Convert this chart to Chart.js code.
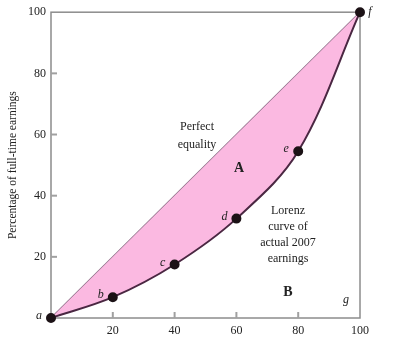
<!DOCTYPE html>
<html>
<head>
<meta charset="utf-8">
<script src="https://cdn.jsdelivr.net/npm/chart.js@4/dist/chart.umd.min.js"></script>
<style>
    body { margin: 0; background: #fff; }
    #wrap { width: 400px; height: 350px; }
</style>
</head>
<body>
<div id="wrap"><canvas id="chartCanvas" width="400" height="350"></canvas></div>
<script>
// population share (x) and earnings share (y)
const popShare = [0, 20, 40, 60, 80, 100];
const lorenzShare = [0, 6.8, 17.5, 32.5, 54.5, 100];
const equalityX = [0, 100];
const equalityY = [0, 100];
const pointLabels = ['a', 'b', 'c', 'd', 'e', 'f'];
const tickValues = [20, 40, 60, 80, 100];

const serif = '"Liberation Serif", "DejaVu Serif", serif';

// frame, inner tick marks and text notes
const decorations = {
    id: 'decorations',
    beforeDatasetsDraw(chart) {
        const { ctx, chartArea: a, scales: { x, y } } = chart;
        ctx.save();
        ctx.strokeStyle = '#8c8c8c';
        ctx.lineWidth = 1.5;
        ctx.strokeRect(a.left, a.top, a.right - a.left, a.bottom - a.top);
        ctx.lineWidth = 2;
        ctx.strokeStyle = '#a0a0a0';
        tickValues.slice(0, 4).forEach(v => {
            const px = x.getPixelForValue(v);
            ctx.beginPath();
            ctx.moveTo(px, a.bottom);
            ctx.lineTo(px, a.bottom - 6);
            ctx.stroke();
            const py = y.getPixelForValue(v);
            ctx.beginPath();
            ctx.moveTo(a.left, py);
            ctx.lineTo(a.left + 6, py);
            ctx.stroke();
        });
        ctx.restore();
    },
    afterDatasetsDraw(chart) {
        const { ctx, scales: { x, y } } = chart;
        ctx.save();
        ctx.fillStyle = '#222';
        ctx.textAlign = 'center';
        ctx.textBaseline = 'middle';

        // point letters
        ctx.font = 'italic 12px ' + serif;
        popShare.forEach((v, i) => {
            const px = x.getPixelForValue(v);
            const py = y.getPixelForValue(lorenzShare[i]);
            if (i === pointLabels.length - 1) {
                ctx.fillText(pointLabels[i], px + 10, py);
            } else {
                ctx.fillText(pointLabels[i], px - 12, py - 2);
            }
        });
        ctx.fillText('g', 346, 300);

        ctx.font = '12px ' + serif;
        ctx.fillText('Perfect', 197, 127);
        ctx.fillText('equality', 197, 145);
        ['Lorenz', 'curve of', 'actual 2007', 'earnings'].forEach((t, i) => {
            ctx.fillText(t, 288, 211 + i * 16);
        });

        ctx.font = 'bold 14px ' + serif;
        ctx.fillText('A', 239, 168);
        ctx.fillText('B', 288, 292);
        ctx.restore();
    }
};

const ctx = document.getElementById('chartCanvas').getContext('2d');
new Chart(ctx, {
    type: 'line',
    data: {
        datasets: [
            {
                label: 'Perfect equality',
                data: equalityX.map((v, i) => ({ x: v, y: equalityY[i] })),
                borderColor: '#8f6f88',
                borderWidth: 1.5,
                pointRadius: 0,
                fill: false,
                clip: false,
                order: 2
            },
            {
                label: 'Lorenz curve',
                data: popShare.map((v, i) => ({ x: v, y: lorenzShare[i] })),
                borderColor: '#4a2742',
                borderWidth: 2,
                backgroundColor: '#fbb9e1',
                tension: 0.35,
                pointRadius: 4,
                pointBackgroundColor: '#1c1216',
                pointBorderColor: '#1c1216',
                fill: { target: 0, above: '#fbb9e1', below: '#fbb9e1' },
                clip: false,
                order: 1
            }
        ]
    },
    options: {
        responsive: false,
        animation: false,
        layout: { padding: { left: 0, right: 40, top: 10, bottom: 0 } },
        plugins: {
            legend: { display: false },
            tooltip: { enabled: false }
        },
        scales: {
            x: {
                type: 'linear',
                min: 0,
                max: 100,
                grid: { display: false, drawTicks: false },
                border: { display: false },
                afterFit: s => { s.height = 32; },
                ticks: {
                    stepSize: 20,
                    padding: 6,
                    color: '#222',
                    font: { family: serif, size: 12 },
                    callback: v => v === 0 ? '' : v
                }
            },
            y: {
                min: 0,
                max: 100,
                grid: { display: false, drawTicks: false },
                border: { display: false },
                afterFit: s => { s.width = 51; },
                title: {
                    display: true,
                    text: 'Percentage of full-time earnings',
                    color: '#222',
                    font: { family: serif, size: 11.5 },
                    padding: { top: 6, bottom: 2 }
                },
                ticks: {
                    stepSize: 20,
                    padding: 5,
                    color: '#222',
                    font: { family: serif, size: 12 },
                    callback: v => v === 0 ? '' : v
                }
            }
        }
    },
    plugins: [decorations]
});
</script>
</body>
</html>
